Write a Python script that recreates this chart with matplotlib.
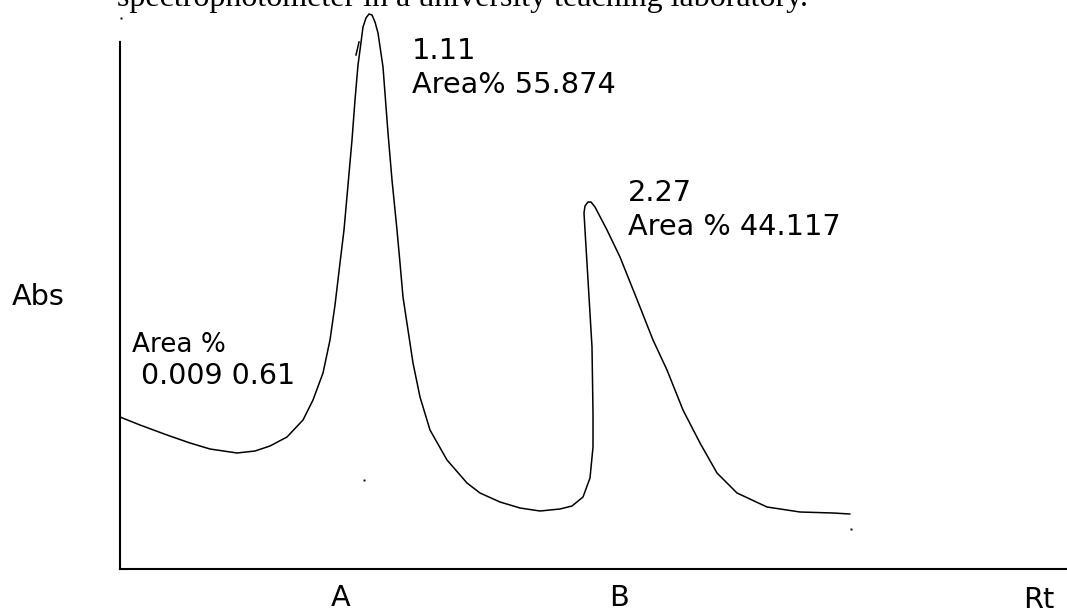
import matplotlib
matplotlib.use("Agg")
import matplotlib.pyplot as plt

W, H = 1067, 609
X0, Y0 = 120, 569          # pixel position of the axes origin
XMAX, YMAX = W - X0, Y0 - 42

# hand drawn trace (Rt, Abs) in drawing units
rt = [0, 20, 47, 70, 90, 117, 135, 150, 167, 183, 193, 203, 210, 215, 220,
      224, 228, 232, 235, 238, 240, 243, 246, 249, 252, 255, 258, 263, 268,
      272, 277, 280, 283, 288, 293, 300, 310, 327, 347, 360, 380, 400, 420,
      440, 452, 463, 470, 473, 473, 472, 468, 465, 464, 465, 468, 471, 475,
      487, 500, 520, 533, 547, 563, 580, 597, 617, 647, 680, 713, 730]
absv = [152, 144, 134, 126, 120, 116, 118, 123, 132, 149, 169, 196, 229, 264,
        306, 339, 384, 429, 469, 504, 519, 542, 551, 555, 554, 547, 536, 502,
        436, 389, 339, 306, 272, 239, 206, 172, 139, 109, 86, 76, 67, 61, 58,
        60, 63, 72, 91, 122, 156, 222, 289, 339, 356, 363, 367, 367, 362, 339,
        312, 262, 229, 199, 159, 126, 96, 76, 62, 57, 56, 55]

# little hook where the pen started at the top of peak A
hook_rt = [236, 239]
hook_abs = [514, 527]

# stray pen dots
dot_rt = [0.7, 244, 731]
dot_abs = [551, 89, 40]

tick_pos = [221, 499]
tick_names = ["A", "B"]


def fx(px):
    return px / W


def fy(py):
    return 1 - py / H


fig = plt.figure(figsize=(W / 100, H / 100), dpi=100)
ax = fig.add_axes([fx(X0), fy(Y0), XMAX / W, YMAX / H])
ax.plot(rt, absv, color="black", lw=1.1, solid_joinstyle="round",
        solid_capstyle="round", clip_on=False)
ax.plot(hook_rt, hook_abs, color="black", lw=1.1, clip_on=False)
ax.plot(dot_rt, dot_abs, "s", color="black", ms=1.4, mew=0, clip_on=False)
ax.set_xlim(0, XMAX)
ax.set_ylim(0, YMAX)
for side in ["top", "right"]:
    ax.spines[side].set_visible(False)
for side in ["left", "bottom"]:
    ax.spines[side].set_linewidth(1.5)
ax.set_yticks([])
ax.set_xticks(tick_pos, tick_names, fontsize=20.7)
ax.tick_params(axis="x", length=0, pad=11)

fig.text(fx(117), fy(6), "spectrophotometer in a university teaching laboratory.",
         family="Liberation Serif", fontsize=23, va="baseline")
fig.text(fx(12), fy(305), "Abs", fontsize=20.7, va="baseline")
fig.text(fx(1023), fy(608), "Rt", fontsize=20.7, va="baseline")
fig.text(fx(412), fy(59), "1.11", fontsize=20.7, va="baseline")
fig.text(fx(412), fy(93), "Area% 55.874", fontsize=20.7, va="baseline")
fig.text(fx(628), fy(201), "2.27", fontsize=20.7, va="baseline")
fig.text(fx(628), fy(235), "Area % 44.117", fontsize=20.7, va="baseline")
fig.text(fx(132), fy(352), "Area %", fontsize=18.9, va="baseline")
fig.text(fx(132), fy(384), " 0.009 0.61", fontsize=20.5, va="baseline")

fig.savefig("out.png", dpi=100)
